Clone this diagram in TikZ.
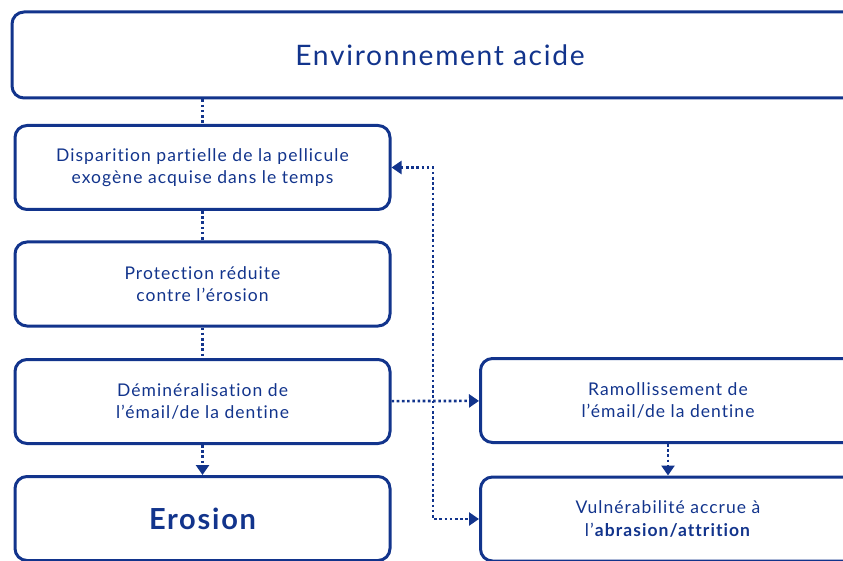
\documentclass[tikz,border=0pt]{standalone}
\usepackage{fontspec}
\setmainfont{Lato}[LetterSpace=6,RawFeature=-liga]
\usetikzlibrary{arrows.meta}
\definecolor{acidblue}{RGB}{18,52,140}
\tikzset{
	boite/.style={draw=acidblue, line width=3pt, rounded corners=12pt, text=acidblue, align=center,
		minimum width=375pt, minimum height=84pt, inner sep=0pt, font=\fontsize{17.5}{22.5}\selectfont},
	lien/.style={acidblue, line width=2.6pt, dash pattern=on 2.6pt off 2.6pt},
	>={Triangle[width=13pt,length=10pt]}
}

\begin{document}
\begin{tikzpicture}[x=1pt,y=-1pt]
			\useasboundingbox (0,0) rectangle (843,561);
			\clip (0,0) rectangle (843,561);
			\node[boite, minimum width=856pt, minimum height=86pt, font=\fontsize{28.2}{32}\selectfont] (acide) at (440,55) {Environnement acide};
			\node[boite] (pellicule) at (202.5,167.5) {Disparition partielle de la pellicule\\exogène acquise dans le temps};
			\node[boite] (protection) at (202.5,284) {Protection réduite\\contre l’érosion};
			\node[boite] (demin) at (202.5,401.5) {Déminéralisation de\\l’émail/de la dentine};
			\node[boite, font=\fontsize{29}{32}\selectfont\bfseries] (erosion) at (202.5,518.5) {Erosion};
			\node[boite] (ramol) at (668,400.5) {Ramollissement de\\l’émail/de la dentine};
			\node[boite] (vulner) at (668,519) {Vulnérabilité accrue à\\l’\textbf{abrasion/attrition}};
			\coordinate (coude) at (433,0);
			
			\draw[lien] (pellicule.north |- acide.south) -- (pellicule.north);
			\draw[lien] (pellicule) -- (protection);
			\draw[lien] (protection) -- (demin);
			\draw[lien,->] (demin) -- (erosion);
			\draw[lien,->] (demin) -- (ramol);
			\draw[lien,->] (ramol) -- (vulner);
			\draw[lien,<->] (pellicule.east) -| (coude |- vulner.west) -- (vulner.west);
		\end{tikzpicture}
\end{document}
